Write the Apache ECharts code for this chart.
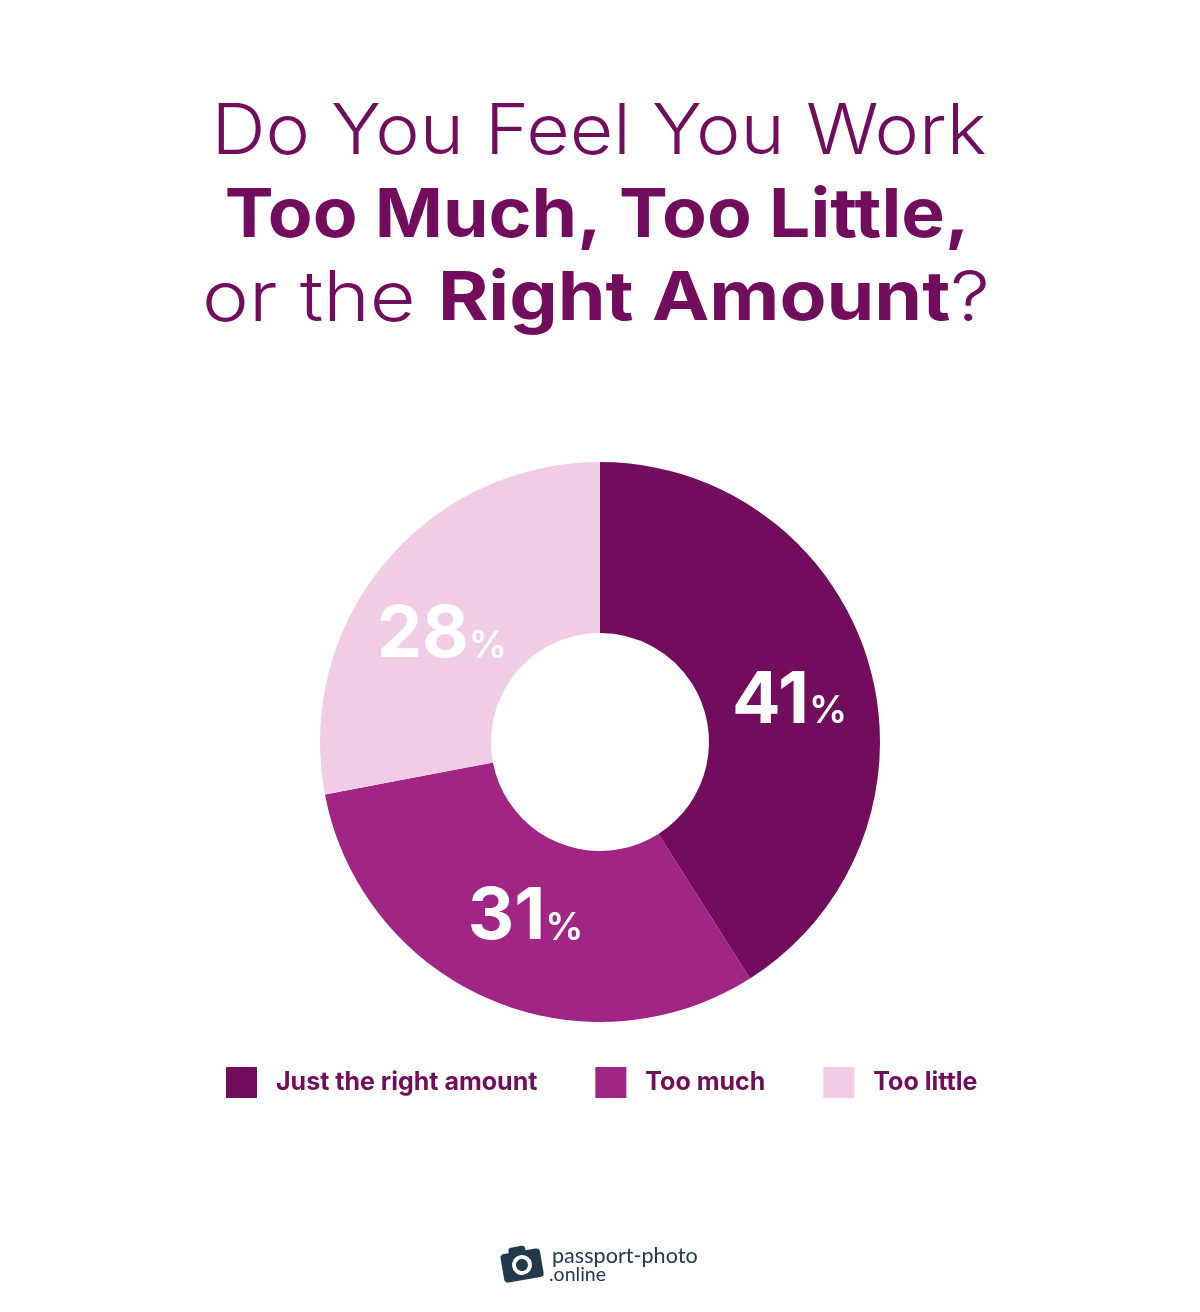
<!DOCTYPE html>
<html>
<head>
<meta charset="utf-8">
<title>Do You Feel You Work Too Much, Too Little, or the Right Amount?</title>
<script src="https://cdn.jsdelivr.net/npm/echarts@6/dist/echarts.min.js"></script>
<style>
  html, body { margin: 0; padding: 0; background: #fff; }
  #chart-container { width: 1200px; height: 1312px; }
</style>
</head>
<body>
<div id="chart-container"></div>
<script>
// data
var categories = ['Just the right amount', 'Too much', 'Too little'];
var values = [41, 31, 28];
var sliceColors = ['#720d5d', '#a12585', '#f0cde4'];

var dark = '#720d5d';
var fontName = 'Inter';

var container = document.getElementById('chart-container');
var myChart = echarts.init(container);

// the labels do not sit exactly on the mid radius in the original
var labelNudge = [[0, 14], [4, -6], [-6, 19]];

// the title font of the original is wider than Inter, so each line is stretched a bit
var titleRich = {
  l: { fontFamily: fontName, fontWeight: 300, fontSize: 70, fill: dark },
  b: { fontFamily: fontName, fontWeight: 700, fontSize: 68, fill: dark }
};
function titleLine(text, x, y, stretch) {
  return {
    type: 'text',
    x: x,
    y: y,
    scaleX: stretch,
    style: { text: text, rich: titleRich, align: 'center', verticalAlign: 'middle' }
  };
}

myChart.setOption({
  backgroundColor: '#fff',
  animation: false,
  legend: {
    left: 226,
    top: 1067,
    padding: 0,
    icon: 'rect',
    itemWidth: 31,
    itemHeight: 31,
    itemGap: 58,
    data: categories,
    selectedMode: false,
    textStyle: {
      fontFamily: fontName,
      fontWeight: 700,
      fontSize: 25,
      color: dark,
      padding: [0, 0, 0, 14]
    }
  },
  series: [
    {
      type: 'pie',
      center: [600, 742],
      radius: [109, 280],
      startAngle: 90,
      clockwise: true,
      silent: true,
      label: {
        position: 'inside',
        formatter: function (p) { return '{n|' + p.value + '}{p|%}'; },
        rich: {
          n: { fontFamily: fontName, fontWeight: 700, fontSize: 72, color: '#fff' },
          p: { fontFamily: fontName, fontWeight: 600, fontSize: 38, color: '#fff', padding: [22, 0, 0, 0] }
        }
      },
      labelLine: { show: false },
      labelLayout: function (params) {
        var n = labelNudge[params.dataIndex];
        return { dx: n[0], dy: n[1] };
      },
      data: categories.map(function (name, i) {
        return { name: name, value: values[i], itemStyle: { color: sliceColors[i] } };
      })
    }
  ],
  graphic: [
    titleLine('{l|Do You Feel You Work}', 599, 133, 1.072),
    titleLine('{b|Too Much, Too Little,}', 597, 217, 1.076),
    titleLine('{l|or the }{b|Right Amount}{l|?}', 596, 300, 1.13),
    {
      type: 'group',
      x: 522,
      y: 1265,
      rotation: 0.17,
      children: [
        { type: 'rect', shape: { x: -20, y: -14, width: 40, height: 29, r: 4 }, style: { fill: '#22394b' } },
        { type: 'rect', shape: { x: -11, y: -19, width: 17, height: 8, r: 3 }, style: { fill: '#22394b' } },
        { type: 'circle', shape: { cx: 0, cy: 0, r: 10 }, style: { fill: '#fff' } },
        { type: 'circle', shape: { cx: 0, cy: 0, r: 6 }, style: { fill: '#22394b' } }
      ]
    },
    {
      type: 'text',
      left: 552,
      top: 1245,
      style: { text: 'passport-photo', fontFamily: 'Lato', fontSize: 21.6, fill: '#22394b' }
    },
    {
      type: 'text',
      left: 549,
      top: 1265,
      style: { text: '.online', fontFamily: 'Lato', fontSize: 19.5, fill: '#22394b' }
    }
  ]
});
</script>
</body>
</html>
